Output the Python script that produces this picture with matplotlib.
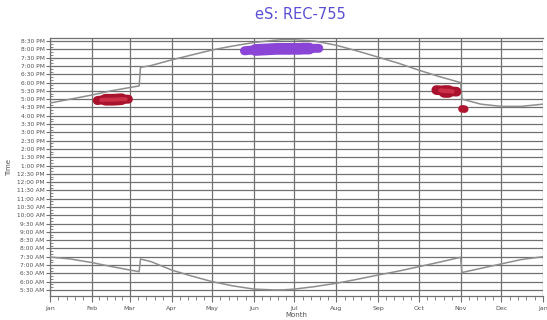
import numpy as np
import matplotlib
matplotlib.use('Agg')
import matplotlib.pyplot as plt


def mins(t):
    h, m = t.split(':')
    return int(h) * 60 + int(m)


# month starts (day of year) and labels
month_days = [0, 31, 59, 90, 120, 151, 181, 212, 243, 273, 304, 334, 365]
month_labels = ['Jan', 'Feb', 'Mar', 'Apr', 'May', 'Jun', 'Jul', 'Aug', 'Sep', 'Oct', 'Nov', 'Dec', 'Jan']

# y tick labels, every 30 minutes from 5:30 AM to 8:30 PM
time_ticks = ['05:30', '06:00', '06:30', '07:00', '07:30', '08:00', '08:30', '09:00', '09:30',
              '10:00', '10:30', '11:00', '11:30', '12:00', '12:30', '13:00', '13:30', '14:00',
              '14:30', '15:00', '15:30', '16:00', '16:30', '17:00', '17:30', '18:00', '18:30',
              '19:00', '19:30', '20:00', '20:30']
time_labels = ['5:30 AM', '6:00 AM', '6:30 AM', '7:00 AM', '7:30 AM', '8:00 AM', '8:30 AM',
               '9:00 AM', '9:30 AM', '10:00 AM', '10:30 AM', '11:00 AM', '11:30 AM', '12:00 PM',
               '12:30 PM', '1:00 PM', '1:30 PM', '2:00 PM', '2:30 PM', '3:00 PM', '3:30 PM',
               '4:00 PM', '4:30 PM', '5:00 PM', '5:30 PM', '6:00 PM', '6:30 PM', '7:00 PM',
               '7:30 PM', '8:00 PM', '8:30 PM']

# sunset / sunrise curves
sun_days = [0, 15, 31, 45, 59, 66, 67, 75, 90, 105, 120, 135, 151, 166, 172, 181, 196, 212,
            227, 243, 258, 273, 288, 304, 305, 319, 334, 349, 365]
sunset = ['16:46', '17:00', '17:15', '17:30', '17:42', '17:48', '18:55', '19:02', '19:22', '19:40',
          '19:58', '20:12', '20:25', '20:33', '20:35', '20:35', '20:30', '20:15', '19:55', '19:32',
          '19:10', '18:45', '18:22', '18:00', '17:00', '16:42', '16:34', '16:34', '16:42']
sunrise = ['07:29', '07:22', '07:09', '06:55', '06:42', '06:36', '07:22', '07:12', '06:42', '06:20',
           '06:00', '05:45', '05:33', '05:30', '05:30', '05:33', '05:42', '05:54', '06:08', '06:24',
           '06:38', '06:54', '07:10', '07:28', '06:33', '06:48', '07:04', '07:20', '07:30']

# detections (blobs)
red1_days = [35, 38, 41, 44, 47, 50, 53, 56, 58]
red1_times = ['16:55', '16:57', '16:58', '16:58', '16:58', '16:59', '17:00', '17:00', '17:00']
purple_days = [144, 148, 152, 156, 160, 164, 168, 172, 176, 180, 184, 188, 192, 196, 199]
purple_times = ['19:55', '19:57', '19:58', '19:59', '20:00', '20:01', '20:02', '20:02', '20:02',
                '20:02', '20:02', '20:03', '20:03', '20:04', '20:04']
red2_days = [286, 289, 292, 295, 298, 301]
red2_times = ['17:33', '17:32', '17:30', '17:30', '17:28', '17:27']
red3_days = [305, 307]
red3_times = ['16:25', '16:24']

grid_c = '#707070'
line_c = '#8e8e8e'
txt_c = '#505050'

fig = plt.figure(figsize=(5.47, 3.2), dpi=100)
ax = fig.add_axes([0.0914, 0.075, 0.9013, 0.806])

ax.plot(sun_days, [mins(t) for t in sunset], color=line_c, lw=1.1, zorder=3)
ax.plot(sun_days, [mins(t) for t in sunrise], color=line_c, lw=1.1, zorder=3)


def blob(d, t, w, outer, inner=None):
    yy = [mins(x) for x in t]
    ax.plot(d, yy, lw=w, color=outer, solid_capstyle='round', zorder=4)
    if len(d) > 4:
        ax.plot(d[2:-2], yy[2:-2], lw=w * 1.3, color=outer, solid_capstyle='round', zorder=4)
    if inner:
        ax.plot(d[1:-1], yy[1:-1], lw=w * 0.45, color=inner, solid_capstyle='round', zorder=5)


blob(red1_days, red1_times, 6.5, '#a8122c', '#cc3049')
blob(red2_days, red2_times, 7.0, '#a8122c', '#cc3049')
blob(red3_days, red3_times, 5.5, '#b01530')
blob(purple_days, purple_times, 6.5, '#8b45d6')

ax.set_xlim(0, 365)
ax.set_ylim(308, 1241)

ax.set_xticks(month_days)
ax.set_xticklabels(month_labels, fontsize=4.5, color=txt_c)
minor_x = []
for a, b in zip(month_days[:-1], month_days[1:]):
    minor_x += list(np.linspace(a, b, 6)[1:-1])
ax.set_xticks(minor_x, minor=True)

ax.set_yticks([mins(t) for t in time_ticks])
ax.set_yticklabels(time_labels, fontsize=4.2, color=txt_c)
ax.set_yticks(np.arange(mins('05:30'), mins('20:40'), 10), minor=True)

ax.tick_params(axis='x', which='major', length=4, color=grid_c, pad=3)
ax.tick_params(axis='x', which='minor', length=3, color=grid_c)
ax.tick_params(axis='y', which='major', length=3, color=grid_c, pad=1)
ax.tick_params(axis='y', which='minor', length=2, direction='in', color=grid_c)

ax.grid(True, which='major', color=grid_c, lw=0.9)
for s in ax.spines.values():
    s.set_color(grid_c)
    s.set_linewidth(0.9)
ax.spines['right'].set_visible(False)

ax.set_xlabel('Month', fontsize=5, color=txt_c, labelpad=1)
ax.set_ylabel('Time', fontsize=5, color=txt_c, labelpad=3)
fig.text(0.55, 0.955, 'eS: REC-755', ha='center', va='center', fontsize=10.5, color='#5a4fd4')

fig.savefig('out.png', dpi=100)
